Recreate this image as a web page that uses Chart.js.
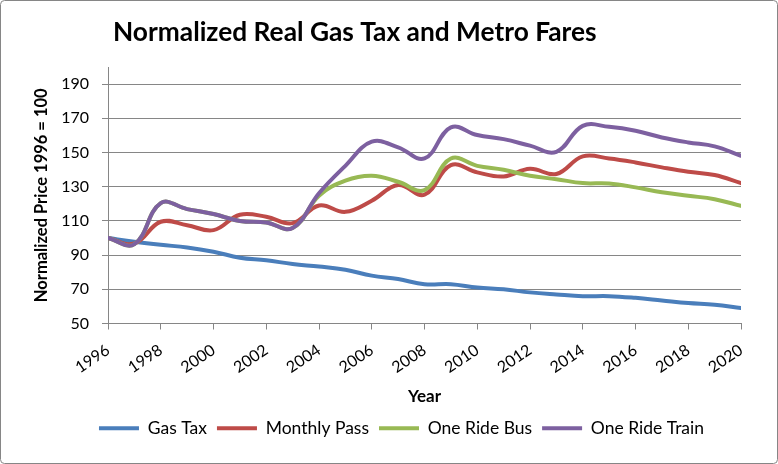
<!DOCTYPE html>
<html>
<head>
<meta charset="utf-8">
<script src="https://cdn.jsdelivr.net/npm/chart.js@4/dist/chart.umd.min.js"></script>
<style>
  html, body { margin: 0; padding: 0; background: #fff; }
  canvas { display: block; }
</style>
</head>
<body>
<canvas id="chart" width="778" height="464"></canvas>
<script>
const years = [1996, 1997, 1998, 1999, 2000, 2001, 2002, 2003, 2004, 2005, 2006, 2007, 2008,
               2009, 2010, 2011, 2012, 2013, 2014, 2015, 2016, 2017, 2018, 2019, 2020];
const gasTax = [100, 97.8, 96, 94.5, 92, 88.5, 87, 84.8, 83.3, 81.4, 78, 76, 73,
                73, 71, 70, 68.2, 67, 66, 66, 65, 63.5, 62, 61, 59];
const monthlyPass = [100, 96.8, 109.5, 107.5, 104.6, 113.6, 112.4, 108.7, 119, 115.3, 121.8, 131, 125.3,
                     142.6, 138.4, 136, 140.5, 137.4, 147.7, 146.5, 144.2, 141.3, 138.7, 136.8, 132.1];
const oneRideBus = [100, 96.4, 120.4, 116.9, 114, 110, 109.1, 105.8, 124.7, 133.5, 136.4, 132.9, 128,
                    146.5, 142.2, 139.9, 136.4, 134.4, 132.1, 131.9, 129.6, 126.7, 124.7, 122.7, 118.8];
const oneRideTrain = [100, 96.4, 120.4, 116.9, 114, 110, 109.1, 105.8, 126.2, 142.2, 156.3, 153, 146.5,
                      164.7, 160.2, 157.8, 154, 150.4, 165.6, 165, 162.7, 158.8, 155.9, 153.6, 148.1];
const yTicks = [50, 70, 90, 110, 130, 150, 170, 190];

const FONT = 'Lato, "Open Sans", sans-serif';
const gridColor = '#868686';

function series(label, values, color, order) {
    return {
        label: label,
        data: values.map((v, i) => ({ x: years[i], y: v })),
        borderColor: color,
        backgroundColor: color,
        borderWidth: 4,
        borderCapStyle: 'round',
        borderJoinStyle: 'round',
        pointRadius: 0,
        pointStyle: 'line',
        tension: 0.4,
        order: order
    };
}

const frame = {
    id: 'frame',
    afterLayout(chart) {
        // legend sits a little right of centre in the original
        chart.legend.left += 31;
        chart.legend.right += 31;
    },
    afterDraw(chart) {
        const ctx = chart.ctx;
        ctx.save();
        ctx.fillStyle = '#000';
        ctx.font = 'bold 26.3px ' + FONT;
        ctx.textBaseline = 'alphabetic';
        ctx.fillText('Normalized Real Gas Tax and Metro Fares', 113, 41);
        ctx.strokeStyle = gridColor;
        ctx.lineWidth = 1;
        ctx.beginPath();
        ctx.roundRect(0.5, 0.5, 777, 463, 4);
        ctx.stroke();
        ctx.restore();
    }
};

new Chart(document.getElementById('chart'), {
    type: 'line',
    data: {
        datasets: [
            series('Gas Tax', gasTax, '#4A7EBB', 3),
            series('Monthly Pass', monthlyPass, '#BE4B48', 2),
            series('One Ride Bus', oneRideBus, '#98B954', 1),
            series('One Ride Train', oneRideTrain, '#7D60A0', 0)
        ]
    },
    options: {
        responsive: false,
        animation: false,
        layout: { padding: { top: 67, right: 37, left: 0, bottom: 17 } },
        plugins: {
            legend: {
                position: 'bottom',
                labels: {
                    usePointStyle: true,
                    pointStyleWidth: 40,
                    boxHeight: 4,
                    color: '#000',
                    padding: 10,
                    font: { family: FONT, size: 17.5 },
                    sort: (a, b) => a.datasetIndex - b.datasetIndex
                }
            },
            tooltip: { enabled: false }
        },
        scales: {
            x: {
                type: 'linear',
                min: 1996,
                max: 2020,
                afterFit(scale) { scale.height = 86; },
                ticks: {
                    stepSize: 2,
                    minRotation: 34,
                    maxRotation: 34,
                    padding: 11,
                    color: '#000',
                    font: { family: FONT, size: 16 },
                    callback: v => String(v)
                },
                grid: { drawOnChartArea: false, color: gridColor, tickLength: 6 },
                border: { color: gridColor },
                title: {
                    display: true,
                    text: 'Year',
                    color: '#000',
                    font: { family: FONT, size: 17, weight: 'bold' },
                    padding: { top: 0, bottom: 3 }
                }
            },
            y: {
                min: 50,
                max: 200,
                afterFit(scale) { scale.width = 108; },
                afterBuildTicks(scale) { scale.ticks = yTicks.map(v => ({ value: v })); },
                ticks: {
                    color: '#000',
                    padding: 13,
                    font: { family: FONT, size: 16 }
                },
                grid: { color: gridColor, tickLength: 6 },
                border: { color: gridColor },
                title: {
                    display: true,
                    text: 'Normalized Price 1996 = 100',
                    color: '#000',
                    font: { family: FONT, size: 16.5, weight: 'bold' },
                    padding: { top: 32, bottom: 0 }
                }
            }
        }
    },
    plugins: [frame]
});
</script>
</body>
</html>
